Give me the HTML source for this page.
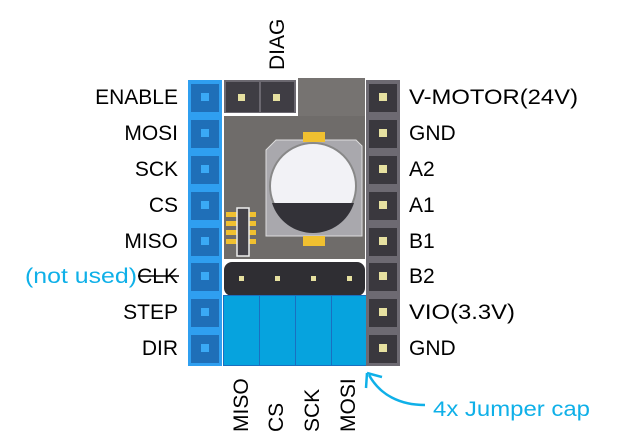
<!DOCTYPE html>
<html><head><meta charset="utf-8"><style>
html,body{margin:0;padding:0;background:#fff;width:618px;height:447px;overflow:hidden}
text{font-family:"Liberation Sans",sans-serif;font-size:21px}
</style></head><body>
<svg width="618" height="447" viewBox="0 0 618 447" xmlns="http://www.w3.org/2000/svg">
<!-- board -->
<rect x="221" y="78" width="145" height="288" fill="#fff"/>
<rect x="224" y="80" width="72" height="33" fill="#6b6870"/>
<rect x="226" y="82" width="33" height="30" fill="#3f3d44"/>
<rect x="261" y="82" width="33" height="30" fill="#3f3d44"/>
<rect x="238" y="94" width="7" height="7" fill="#e6e0a0"/>
<rect x="273" y="94" width="7" height="7" fill="#e6e0a0"/>
<rect x="224" y="116" width="141" height="143" fill="#6f6c6a"/>
<rect x="298" y="78" width="67" height="38" fill="#767371"/>
<rect x="224" y="113" width="74" height="2" fill="#fff"/>
<!-- capacitor -->
<path d="M276 140 L356 140 L362 146 L362 236 L266 236 L266 150 Z" fill="#a9a8ad" stroke="#ddd" stroke-width="1"/>
<rect x="303" y="132" width="22" height="10" fill="#f0c030"/>
<rect x="303" y="236" width="22" height="10" fill="#f0c030"/>
<circle cx="313" cy="186" r="43" fill="#f2f2f6" stroke="#888" stroke-width="2"/>
<path d="M272 203 A43 43 0 0 0 354 203 Z" fill="#333238"/>
<!-- chip -->
<rect x="226" y="212" width="30" height="5" fill="#f0c030"/><rect x="226" y="221" width="30" height="5" fill="#f0c030"/><rect x="226" y="230" width="30" height="5" fill="#f0c030"/><rect x="226" y="239" width="30" height="5" fill="#f0c030"/>
<rect x="237" y="208" width="12" height="48" fill="#444249" stroke="#eee" stroke-width="1.5"/>
<!-- jumper strip -->
<rect x="224" y="262" width="141" height="34" rx="8" fill="#2f2e33"/>
<g fill="#e6e0a0"><rect x="239" y="276" width="5" height="5"/><rect x="275" y="276" width="5" height="5"/><rect x="311" y="276" width="5" height="5"/><rect x="347" y="276" width="5" height="5"/></g>
<!-- caps -->
<g fill="#06a3de" stroke="#1a6fc0" stroke-width="1">
<rect x="223.5" y="295.5" width="36" height="70"/><rect x="259.5" y="295.5" width="36" height="70"/><rect x="295.5" y="295.5" width="36" height="70"/><rect x="331.5" y="295.5" width="35" height="70"/>
</g>
<!-- left header -->
<rect x="188" y="80" width="34" height="286" fill="#2f9ff0"/>
<g fill="#1f6fb8">
<rect x="191" y="84" width="28" height="28"/><rect x="191" y="120" width="28" height="28"/><rect x="191" y="156" width="28" height="28"/><rect x="191" y="192" width="28" height="28"/><rect x="191" y="228" width="28" height="28"/><rect x="191" y="263" width="28" height="28"/><rect x="191" y="299" width="28" height="28"/><rect x="191" y="335" width="28" height="28"/>
</g>
<g fill="#3aa9f5">
<rect x="201" y="93" width="8" height="8"/><rect x="201" y="129" width="8" height="8"/><rect x="201" y="165" width="8" height="8"/><rect x="201" y="201" width="8" height="8"/><rect x="201" y="237" width="8" height="8"/><rect x="201" y="272" width="8" height="8"/><rect x="201" y="308" width="8" height="8"/><rect x="201" y="344" width="8" height="8"/>
</g>
<!-- right header -->
<rect x="366" y="80" width="34" height="286" fill="#6d6a72"/>
<g fill="#3a383e">
<rect x="369" y="84" width="28" height="28"/><rect x="369" y="120" width="28" height="28"/><rect x="369" y="156" width="28" height="28"/><rect x="369" y="192" width="28" height="28"/><rect x="369" y="228" width="28" height="28"/><rect x="369" y="263" width="28" height="28"/><rect x="369" y="299" width="28" height="28"/><rect x="369" y="335" width="28" height="28"/>
</g>
<g fill="#e6e0a0">
<rect x="379" y="93" width="8" height="8"/><rect x="379" y="129" width="8" height="8"/><rect x="379" y="165" width="8" height="8"/><rect x="379" y="201" width="8" height="8"/><rect x="379" y="237" width="8" height="8"/><rect x="379" y="272" width="8" height="8"/><rect x="379" y="308" width="8" height="8"/><rect x="379" y="344" width="8" height="8"/>
</g>
<!-- left labels -->
<g text-anchor="end" fill="#000">
<text x="178" y="104">ENABLE</text><text x="178" y="140">MOSI</text><text x="178" y="176">SCK</text><text x="178" y="212">CS</text><text x="178" y="248">MISO</text><text x="178" y="283">CLK</text><text x="178" y="319">STEP</text><text x="178" y="355">DIR</text>
</g>
<line x1="138" y1="276" x2="179" y2="276" stroke="#000" stroke-width="1.5"/>
<text x="25" y="283" fill="#0fb0e8" textLength="112" lengthAdjust="spacingAndGlyphs">(not used)</text>
<!-- right labels -->
<g fill="#000">
<text x="409" y="104" textLength="169" lengthAdjust="spacingAndGlyphs">V-MOTOR(24V)</text><text x="409" y="140">GND</text><text x="409" y="176">A2</text><text x="409" y="212">A1</text><text x="409" y="248">B1</text><text x="409" y="283">B2</text><text x="409" y="319" textLength="106" lengthAdjust="spacingAndGlyphs">VIO(3.3V)</text><text x="409" y="355">GND</text>
</g>
<!-- rotated labels -->
<g fill="#000">
<text transform="translate(284,70) rotate(-90)">DIAG</text>
<text transform="translate(248,432) rotate(-90)">MISO</text>
<text transform="translate(283,432) rotate(-90)">CS</text>
<text transform="translate(319,432) rotate(-90)">SCK</text>
<text transform="translate(355,432) rotate(-90)">MOSI</text>
</g>
<!-- arrow -->
<path d="M425 405 C400 405 380 395 369 375" fill="none" stroke="#0fb0e8" stroke-width="2.5"/>
<path d="M367 373 L382 377 M367 373 L366 388" fill="none" stroke="#0fb0e8" stroke-width="2.5"/>
<text x="433" y="416" fill="#0fb0e8" textLength="157" lengthAdjust="spacingAndGlyphs">4x Jumper cap</text>
</svg>
</body></html>
